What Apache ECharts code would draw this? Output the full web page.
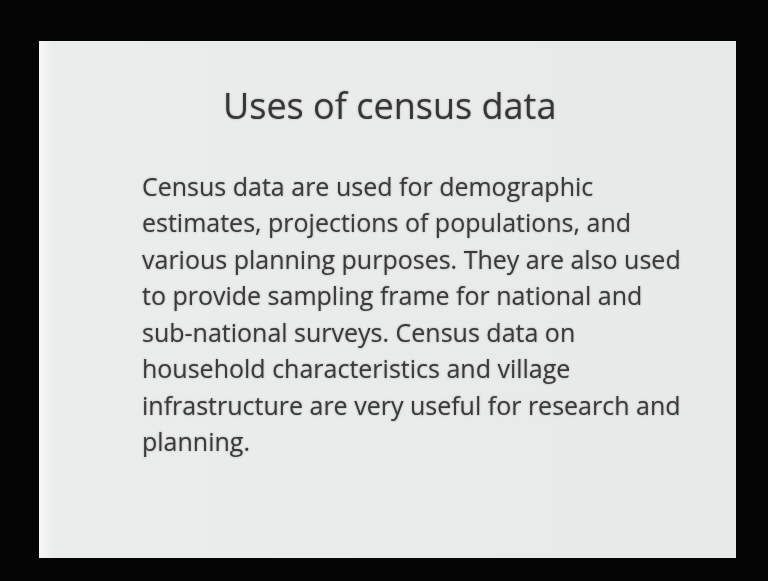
<!DOCTYPE html>
<html>
<head>
<meta charset="utf-8">
<script src="https://cdn.jsdelivr.net/npm/echarts@6/dist/echarts.min.js"></script>
<style>
    html, body { margin: 0; padding: 0; background: #050505; }
    #slide { width: 768px; height: 581px; }
</style>
</head>
<body>
<div id="slide"></div>
<script>
var titleText = "Uses of census data";
var bodyLines = [
    "Census data are used for demographic",
    "estimates, projections of populations, and",
    "various planning purposes. They are also used",
    "to provide sampling frame for national and",
    "sub-national surveys. Census data on",
    "household characteristics and village",
    "infrastructure are very useful for research and",
    "planning."
];

var chart = echarts.init(document.getElementById('slide'));

//slide body text, one element per line
var lineItems = bodyLines.map(function (line, i) {
    return {
        type: 'text',
        left: 142,
        top: 176 + i * 36.5,
        style: {
            text: line,
            font: '25px "Open Sans"',
            fill: '#3a3a3a',
            textShadowColor: 'rgba(0,0,0,0.35)',
            textShadowBlur: 2
        }
    };
});

var option = {
    backgroundColor: '#050505',
    animation: false,
    graphic: [{
        type: 'rect',
        shape: { x: 39, y: 41, width: 697, height: 517 },
        style: {
            fill: new echarts.graphic.LinearGradient(0, 0, 1, 0, [
                { offset: 0, color: '#f6f7f6' },
                { offset: 0.02, color: '#ebedec' },
                { offset: 1, color: '#e8eae9' }
            ])
        }
    }, {
        type: 'text',
        left: 223,
        top: 91,
        style: {
            text: titleText,
            font: '36px "Open Sans"',
            fill: '#363636',
            textShadowColor: 'rgba(0,0,0,0.35)',
            textShadowBlur: 2
        }
    }].concat(lineItems)
};

chart.setOption(option);
</script>
</body>
</html>
